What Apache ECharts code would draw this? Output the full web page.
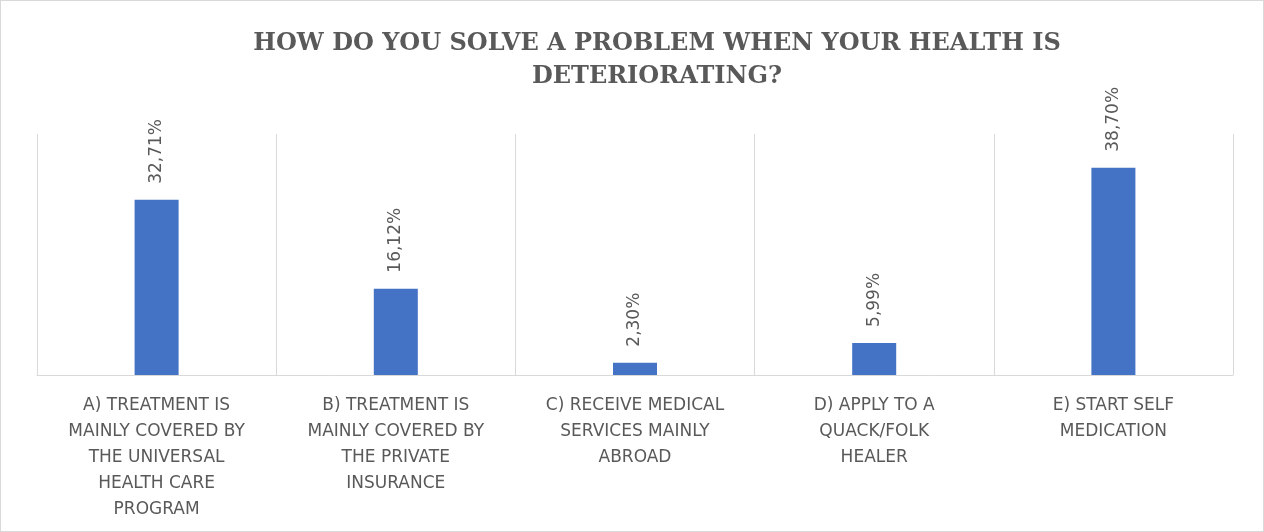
<!DOCTYPE html>
<html>
<head>
<meta charset="utf-8">
<script src="https://cdn.jsdelivr.net/npm/echarts@6/dist/echarts.min.js"></script>
<style>
html,body{margin:0;padding:0;background:#fff;}
#c{position:absolute;left:0;top:0;width:1262px;height:530px;border:1px solid #d9d9d9;}
</style>
</head>
<body>
<div id="c"></div>
<script>
const titleText = "HOW DO YOU SOLVE A PROBLEM WHEN YOUR HEALTH IS\nDETERIORATING?";
const categories = [
  "A) TREATMENT IS\nMAINLY COVERED BY\nTHE UNIVERSAL\nHEALTH CARE\nPROGRAM",
  "B) TREATMENT IS\nMAINLY COVERED BY\nTHE PRIVATE\nINSURANCE",
  "C) RECEIVE MEDICAL\nSERVICES MAINLY\nABROAD",
  "D) APPLY TO A\nQUACK/FOLK\nHEALER",
  "E) START SELF\nMEDICATION"
];
const values = [32.71, 16.12, 2.30, 5.99, 38.70];

const chart = echarts.init(document.getElementById('c'));
chart.setOption({
  animation: false,
  title: {
    text: titleText,
    left: 651,
    top: 21,
    textAlign: 'center',
    textStyle: {
      fontFamily: 'DejaVu Serif',
      fontWeight: 'bold',
      fontSize: 24,
      color: '#595959',
      lineHeight: 33
    }
  },
  grid: { left: 36, right: 30, top: 133, bottom: 156 },
  xAxis: {
    type: 'category',
    data: categories,
    axisLine: { lineStyle: { color: '#d9d9d9', width: 1 } },
    axisTick: { show: false },
    splitLine: { show: true, lineStyle: { color: '#d9d9d9', width: 1 } },
    axisLabel: {
      interval: 0,
      margin: 18,
      color: '#595959',
      fontFamily: 'DejaVu Sans',
      fontSize: 17,
      lineHeight: 26
    }
  },
  yAxis: {
    type: 'value',
    min: 0,
    max: 45,
    show: false,
    splitLine: { show: false }
  },
  series: [{
    type: 'bar',
    data: values,
    barWidth: 44,
    itemStyle: { color: '#4472c4' },
    label: {
      show: true,
      position: 'top',
      rotate: 90,
      align: 'left',
      verticalAlign: 'middle',
      distance: 16,
      color: '#595959',
      fontFamily: 'DejaVu Sans',
      fontSize: 17,
      formatter: p => p.value.toFixed(2).replace('.', ',') + '%'
    }
  }]
});
</script>
</body>
</html>
